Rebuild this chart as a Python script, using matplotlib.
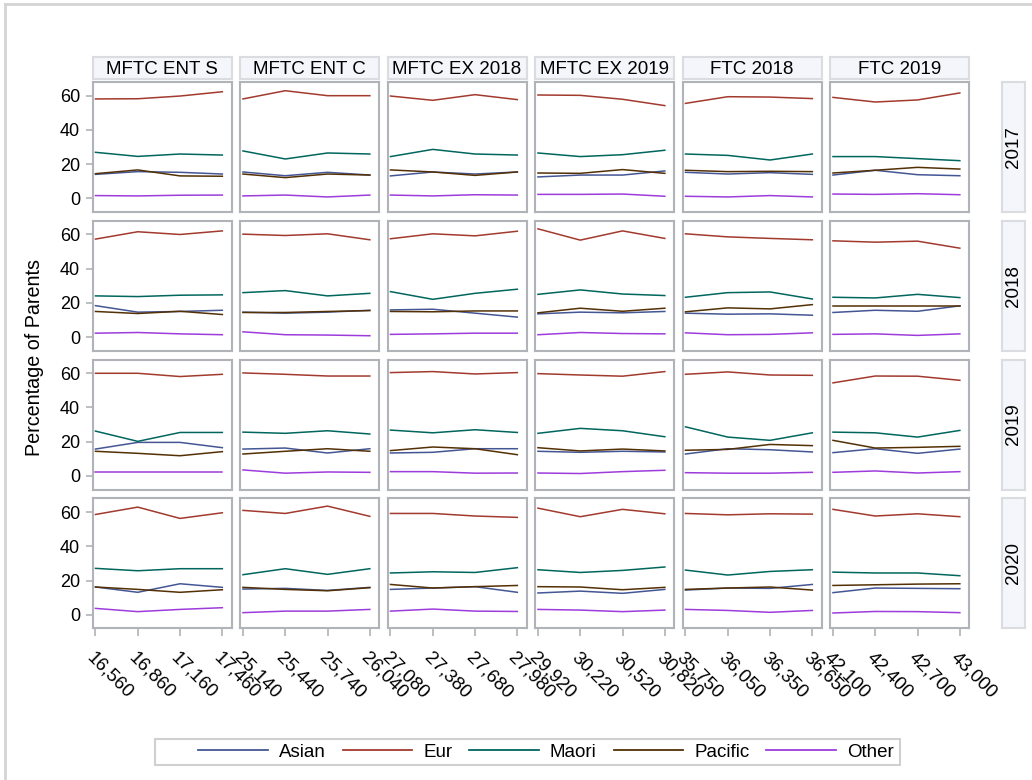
import matplotlib
matplotlib.use("Agg")
import matplotlib.pyplot as plt
from matplotlib.lines import Line2D
from matplotlib.patches import Rectangle

plt.rcParams['font.family'] = ['Liberation Sans', 'DejaVu Sans']

# Facets
programmes = ["MFTC ENT S", "MFTC ENT C", "MFTC EX 2018", "MFTC EX 2019", "FTC 2018", "FTC 2019"]
years      = ["2017", "2018", "2019", "2020"]

# x values (ticks) per programme column
x_starts = [16560, 25140, 27080, 29920, 35750, 42100]
x_step   = 300

series_names = ["Asian", "Eur", "Maori", "Pacific", "Other"]

# values[year][programme] -> 4 points
asian = [
  [[14.0, 15.6, 15.2, 14.2], [15.4, 13.2, 15.2, 13.6], [13.1, 15.4, 14.2, 15.4],
   [12.5, 13.6, 13.6, 16.0], [15.2, 14.2, 15.0, 14.0], [13.6, 16.4, 13.8, 13.2]],
  [[18.4, 14.6, 15.0, 15.7], [14.6, 14.0, 14.6, 15.7], [15.9, 16.3, 14.0, 11.7],
   [13.6, 14.6, 14.2, 15.0], [14.0, 13.4, 13.6, 12.8], [14.4, 15.7, 15.1, 18.3]],
  [[15.7, 19.6, 19.6, 16.5], [15.7, 16.3, 13.4, 15.9], [13.4, 13.8, 15.9, 15.9],
   [14.4, 13.8, 14.4, 14.0], [12.8, 15.9, 15.3, 14.0], [13.6, 15.9, 13.2, 15.7]],
  [[16.2, 13.1, 18.1, 16.0], [15.0, 15.4, 14.2, 16.0], [14.8, 15.6, 16.4, 13.1],
   [12.7, 13.8, 12.5, 14.8], [14.4, 15.6, 15.4, 17.7], [12.9, 15.6, 15.4, 15.2]],
]

eur = [
  [[58.1, 58.2, 59.8, 62.3], [58.1, 62.9, 60.0, 60.0], [59.8, 57.3, 60.6, 57.7],
   [60.4, 60.2, 57.9, 54.2], [55.5, 59.4, 59.2, 58.3], [59.0, 56.3, 57.5, 61.6]],
  [[57.3, 61.6, 60.0, 62.1], [60.2, 59.4, 60.4, 56.9], [57.5, 60.4, 59.2, 61.9],
   [63.3, 56.7, 62.1, 57.7], [60.4, 58.6, 57.7, 56.9], [56.3, 55.5, 56.1, 52.0]],
  [[60.0, 60.0, 58.1, 59.4], [60.2, 59.4, 58.4, 58.4], [60.4, 61.0, 59.6, 60.4],
   [59.8, 59.0, 58.3, 61.0], [59.4, 60.8, 59.0, 58.8], [54.4, 58.4, 58.3, 55.9]],
  [[58.6, 62.9, 56.3, 59.6], [61.0, 59.2, 63.5, 57.5], [59.2, 59.2, 57.7, 56.9],
   [62.3, 57.3, 61.6, 59.0], [59.2, 58.4, 59.0, 58.8], [61.6, 57.7, 59.0, 57.3]],
]

maori = [
  [[26.9, 24.5, 25.9, 25.3], [27.7, 23.0, 26.5, 25.9], [24.4, 28.6, 25.9, 25.3],
   [26.5, 24.4, 25.5, 28.1], [25.9, 25.1, 22.4, 25.9], [24.4, 24.4, 23.2, 22.0]],
  [[24.1, 23.7, 24.5, 24.7], [26.0, 27.2, 24.1, 25.6], [26.6, 22.1, 25.6, 28.0],
   [25.0, 27.6, 25.2, 24.3], [23.3, 26.0, 26.4, 22.3], [23.3, 22.9, 25.0, 23.1]],
  [[26.2, 20.2, 25.4, 25.4], [25.6, 24.9, 26.4, 24.5], [26.8, 25.2, 27.0, 25.4],
   [24.9, 27.8, 26.4, 22.9], [28.7, 22.7, 20.8, 25.2], [25.6, 25.2, 22.7, 26.6]],
  [[27.1, 25.7, 26.9, 26.9], [23.4, 26.9, 23.6, 26.9], [24.4, 25.1, 24.7, 27.5],
   [26.3, 24.7, 25.9, 27.9], [26.1, 23.2, 25.3, 26.3], [24.9, 24.4, 24.4, 22.8]],
]

pacific = [
  [[14.4, 16.6, 13.1, 12.9], [14.2, 12.1, 14.2, 13.6], [16.6, 15.4, 13.4, 15.4],
   [14.8, 14.6, 16.8, 14.6], [16.4, 15.6, 15.8, 15.6], [14.8, 16.4, 18.1, 17.1]],
  [[15.0, 13.8, 15.1, 13.2], [14.4, 14.4, 15.0, 15.5], [15.0, 14.8, 15.3, 15.3],
   [14.2, 16.9, 15.1, 16.9], [14.8, 17.1, 16.5, 19.0], [18.3, 18.3, 18.3, 18.3]],
  [[14.4, 13.2, 11.8, 14.2], [12.8, 14.4, 15.9, 14.4], [14.8, 16.9, 15.9, 12.4],
   [16.5, 14.6, 15.7, 14.6], [15.0, 15.5, 18.4, 17.7], [20.8, 16.3, 16.7, 17.3]],
  [[16.2, 14.8, 13.1, 14.6], [16.0, 14.8, 14.0, 15.8], [17.7, 15.6, 16.4, 17.1],
   [16.4, 16.2, 14.6, 16.0], [14.8, 15.6, 16.2, 14.4], [17.1, 17.5, 17.9, 18.1]],
]

other = [
  [[1.6, 1.4, 1.8, 1.9], [1.4, 1.9, 0.8, 1.9], [1.9, 1.4, 2.1, 1.9],
   [2.3, 2.3, 2.5, 1.2], [1.2, 0.8, 1.6, 0.8], [2.5, 2.3, 2.7, 2.1]],
  [[2.3, 2.7, 1.9, 1.4], [3.1, 1.4, 1.2, 0.8], [1.6, 1.9, 2.3, 2.3],
   [1.4, 2.7, 2.1, 1.9], [2.5, 1.4, 1.6, 2.5], [1.6, 1.9, 1.0, 1.9]],
  [[2.3, 2.3, 2.3, 2.3], [3.5, 1.6, 2.3, 2.1], [2.5, 2.5, 1.6, 1.7],
   [1.7, 1.4, 2.5, 3.3], [1.9, 1.6, 1.6, 2.1], [2.1, 2.9, 1.7, 2.5]],
  [[3.7, 1.8, 3.1, 4.1], [1.2, 2.1, 2.1, 3.1], [2.1, 3.3, 2.1, 1.9],
   [3.1, 2.7, 1.8, 2.7], [3.1, 2.5, 1.4, 2.5], [1.0, 1.9, 1.8, 1.2]],
]

all_series = [asian, eur, maori, pacific, other]
colors     = ["#445694", "#A23A2E", "#01665E", "#543005", "#9D3CDB"]

W, H = 1032, 780
frame_col = "#B0B3B8"
strip_bg  = "#F5F6FB"


def fig_rect(x, y, w, h):
  # pixel box (top-left origin) -> figure fraction
  return [x / W, 1 - (y + h) / H, w / W, h / H]


def style_box(ax, col=frame_col):
  for s in ax.spines.values():
    s.set_color(col)
    s.set_linewidth(1.5)


fig = plt.figure(figsize=(W / 100, H / 100), dpi=100)

col_left  = 92.5
col_step  = 147.5
col_w     = 139
row_top   = 82
row_step  = 138.8
row_h     = 130

for r, yr in enumerate(years):
  for c, prog in enumerate(programmes):
    ax = fig.add_axes(fig_rect(col_left + c * col_step, row_top + r * row_step, col_w, row_h))
    style_box(ax)
    xs = [x_starts[c] + i * x_step for i in range(4)]
    for s, name in enumerate(series_names):
      ax.plot(xs, all_series[s][r][c], color=colors[s], lw=1.1)
    ax.set_ylim(-8, 68)
    ax.set_xlim(xs[0] - 21, xs[-1] + 65)
    ax.set_yticks([0, 20, 40, 60])
    ax.set_xticks(xs)
    ax.tick_params(colors=frame_col, length=5, width=1.2, labelcolor="black", labelsize=13)
    if c == 0:
      ax.tick_params(axis="y", left=True, labelleft=True, pad=4)
    else:
      ax.tick_params(axis="y", left=False, labelleft=False)
    if r == len(years) - 1:
      ax.set_xticklabels([f"{x:,}" for x in xs], rotation=-45, ha="left", va="top",
                         rotation_mode="anchor", fontsize=13.5)
      ax.tick_params(axis="x", pad=9, length=6)
    else:
      ax.tick_params(axis="x", bottom=False, labelbottom=False)

  # row strip on the right
  sax = fig.add_axes(fig_rect(1002, row_top + r * row_step, 23, row_h))
  sax.set_facecolor(strip_bg)
  style_box(sax, "#DADCE0")
  sax.set_xticks([])
  sax.set_yticks([])
  sax.text(0.5, 0.5, yr, rotation=90, ha="center", va="center", fontsize=13.5,
           transform=sax.transAxes)

# column strips on top
for c, prog in enumerate(programmes):
  sax = fig.add_axes(fig_rect(col_left + c * col_step, 57, col_w, 22))
  sax.set_facecolor(strip_bg)
  style_box(sax, "#DADCE0")
  sax.set_xticks([])
  sax.set_yticks([])
  sax.text(0.5, 0.45, prog, ha="center", va="center", fontsize=13.5, transform=sax.transAxes)

fig.text(35 / W, 1 - 358 / H, "Percentage of Parents", rotation=90, ha="center", va="center",
         fontsize=14.2)

# outer frame (top and left edges visible)
fig.add_artist(Line2D([5 / W, 1], [1 - 4 / H, 1 - 4 / H], color="#D4D4D4", lw=2))
fig.add_artist(Line2D([5 / W, 5 / W], [0, 1 - 4 / H], color="#D4D4D4", lw=2))

# legend box is wider on the left than the entries need
fig.add_artist(Rectangle((155 / W, 1 - 765 / H), 745 / W, 26 / H, transform=fig.transFigure,
                         facecolor="white", edgecolor="#D0D0D0", lw=1.5))
handles = [Line2D([], [], color=colors[i], lw=1.3) for i in range(len(series_names))]
fig.legend(handles, series_names, loc="center", bbox_to_anchor=(546 / W, 1 - 752 / H),
           ncol=5, frameon=False, fontsize=13.5, handlelength=3.7,
           columnspacing=0.9, handletextpad=0.6, borderpad=0.25)

fig.savefig("out.png", dpi=100)
